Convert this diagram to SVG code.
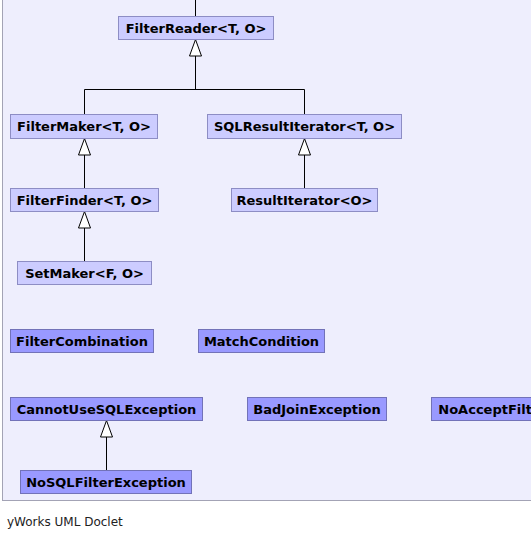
<svg xmlns="http://www.w3.org/2000/svg" width="531" height="539" viewBox="0 0 531 539">
<defs>
<style>
.iface rect{fill:#CCCCFF;stroke:#8D8DC4;stroke-width:1}
.cls rect{fill:#9999FF;stroke:#7272B8;stroke-width:1}
.node text{font-family:"DejaVu Sans",sans-serif;font-weight:bold;font-size:13px;fill:#000;text-anchor:middle}
.edge{fill:none;stroke:#000;stroke-width:1}
.head{fill:#FFF;stroke:#000;stroke-width:1}
</style>
</defs>
<rect x="2.5" y="-2" width="540" height="502.5" fill="#EEEEFD" stroke="#A3A3B5" stroke-width="1"/>
<g id="connectors">
<path class="edge" d="M195.5,0 V16.5"/>
<path class="edge" d="M195.5,56 V89.5 M84.5,89.5 H304.5 M84.5,89.5 V114.5 M304.5,89.5 V114.5"/>
<polygon class="head" points="195.5,39.5 189.5,56 201.5,56"/>
<path class="edge" d="M84.5,155 V188.5"/>
<polygon class="head" points="84.5,138.5 78.5,155 90.5,155"/>
<path class="edge" d="M304.5,155 V188.5"/>
<polygon class="head" points="304.5,138.5 298.5,155 310.5,155"/>
<path class="edge" d="M84.5,228 V261.5"/>
<polygon class="head" points="84.5,211.5 78.5,228 90.5,228"/>
<path class="edge" d="M106.5,437 V470.5"/>
<polygon class="head" points="106.5,420.5 100.5,437 112.5,437"/>
</g>
<g id="FilterReader" class="node iface"><rect x="118.5" y="16.5" width="155" height="23"/><text x="196" y="32.7">FilterReader&lt;T, O&gt;</text></g>
<g id="FilterMaker" class="node iface"><rect x="10.5" y="114.5" width="147" height="24"/><text x="84" y="131.2">FilterMaker&lt;T, O&gt;</text></g>
<g id="SQLResultIterator" class="node iface"><rect x="207.5" y="114.5" width="194" height="24"/><text x="304.5" y="131.2">SQLResultIterator&lt;T, O&gt;</text></g>
<g id="FilterFinder" class="node iface"><rect x="10.5" y="188.5" width="148" height="23"/><text x="84.5" y="204.7">FilterFinder&lt;T, O&gt;</text></g>
<g id="ResultIterator" class="node iface"><rect x="231.5" y="188.5" width="146" height="23"/><text x="304.5" y="204.7">ResultIterator&lt;O&gt;</text></g>
<g id="SetMaker" class="node iface"><rect x="17.5" y="261.5" width="134" height="23"/><text x="84.5" y="277.7">SetMaker&lt;F, O&gt;</text></g>
<g id="FilterCombination" class="node cls"><rect x="10.5" y="329.5" width="143" height="23"/><text x="82" y="345.7">FilterCombination</text></g>
<g id="MatchCondition" class="node cls"><rect x="198.5" y="329.5" width="126" height="23"/><text x="261.5" y="345.7">MatchCondition</text></g>
<g id="CannotUseSQLException" class="node cls"><rect x="10.5" y="397.5" width="192" height="23"/><text x="106.5" y="413.7">CannotUseSQLException</text></g>
<g id="BadJoinException" class="node cls"><rect x="247.5" y="397.5" width="139" height="23"/><text x="317" y="413.7">BadJoinException</text></g>
<g id="NoAcceptFilterException" class="node cls"><rect x="431.5" y="397.5" width="190" height="23"/><text x="438.3" y="413.7" style="text-anchor:start">NoAcceptFilt</text></g>
<g id="NoSQLFilterException" class="node cls"><rect x="20.5" y="470.5" width="171" height="23"/><text x="106" y="486.7">NoSQLFilterException</text></g>
<text x="7" y="526" font-family="DejaVu Sans, sans-serif" font-size="12" fill="#222">yWorks UML Doclet</text>
</svg>
